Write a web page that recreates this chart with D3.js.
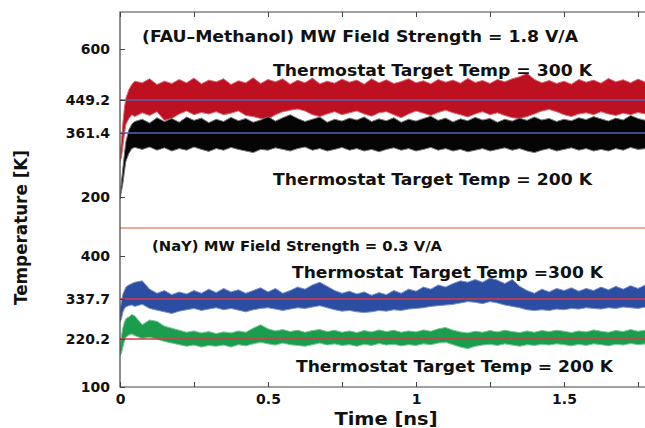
<!DOCTYPE html>
<html>
<head>
<meta charset="utf-8">
<script src="https://cdn.jsdelivr.net/npm/d3@7"></script>
<style>
  body { margin: 0; background: #fff; }
  svg text { font-family: "DejaVu Sans", sans-serif; font-weight: bold; fill: #111; }
</style>
</head>
<body>
<script>
const width = 645;
const height = 428;

// time axis (ns)
const times = [0, 0.005, 0.01, 0.015, 0.02, 0.03, 0.04, 0.05,
  0.075, 0.1, 0.125, 0.15, 0.175, 0.2, 0.225, 0.25, 0.275, 0.3,
  0.325, 0.35, 0.375, 0.4, 0.425, 0.45, 0.475, 0.5, 0.525, 0.55,
  0.575, 0.6, 0.625, 0.65, 0.675, 0.7, 0.725, 0.75, 0.775, 0.8,
  0.825, 0.85, 0.875, 0.9, 0.925, 0.95, 0.975, 1.0, 1.025, 1.05,
  1.075, 1.1, 1.125, 1.15, 1.175, 1.2, 1.225, 1.25, 1.275, 1.3,
  1.325, 1.35, 1.375, 1.4, 1.425, 1.45, 1.475, 1.5, 1.525, 1.55,
  1.575, 1.6, 1.625, 1.65, 1.675, 1.7, 1.725, 1.75, 1.775, 1.8];

// FAU-Methanol, thermostat 300 K (red): upper / lower envelope of the trace [K]
const fau300Hi = [300, 345, 390, 430, 455, 480, 495, 505,
  500, 512, 495, 505, 498, 510, 500, 514, 497, 508,
  503, 512, 495, 506, 500, 515, 498, 510, 503, 512,
  496, 508, 500, 514, 497, 505, 499, 511, 502, 508,
  496, 512, 500, 509, 498, 504, 512, 500, 506, 497,
  510, 502, 508, 499, 513, 501, 507, 498, 510, 503,
  512, 518, 528, 510, 500, 507, 498, 505, 496, 510,
  502, 508, 499, 513, 503, 509, 500, 511, 502, 506];
const fau300Lo = [290, 300, 330, 360, 385, 400, 410, 405,
  415, 408, 418, 395, 400, 412, 420, 410, 416, 412,
  418, 410, 414, 420, 408, 405, 400, 398, 410, 418,
  422, 425, 420, 410, 405, 412, 418, 410, 415, 420,
  412, 406, 415, 418, 410, 402, 412, 420, 414, 408,
  416, 422, 415, 410, 404, 412, 418, 410, 415, 408,
  402, 400, 405, 412, 420, 424, 418, 410, 405, 412,
  415, 410, 418, 412, 408, 414, 410, 416, 412, 410];

// FAU-Methanol, thermostat 200 K (black)
const fau200Hi = [200, 240, 275, 310, 340, 370, 385, 392,
  398, 388, 402, 392, 400, 390, 404, 395, 401, 389,
  398, 392, 403, 394, 400, 390, 396, 405, 393, 402,
  410, 400, 392, 398, 404, 390, 398, 393, 401, 396,
  404, 392, 399, 394, 402, 390, 398, 393, 400, 406,
  395, 401, 391, 399, 394, 403, 396, 400, 390, 398,
  393, 401, 395, 404, 396, 400, 392, 398, 394, 402,
  397, 405, 399, 393, 401, 396, 408, 400, 395, 402];
const fau200Lo = [195, 215, 235, 265, 290, 310, 322, 325,
  320, 326, 318, 324, 316, 322, 318, 326, 320, 315,
  322, 318, 325, 320, 316, 312, 320, 318, 324, 320,
  316, 322, 326, 318, 322, 316, 320, 325, 318, 322,
  316, 320, 314, 320, 324, 318, 322, 316, 320, 325,
  318, 322, 316, 320, 314, 318, 322, 316, 320, 324,
  318, 322, 316, 312, 318, 322, 316, 320, 324, 318,
  322, 316, 320, 316, 322, 318, 325, 320, 322, 318];

// NaY, thermostat 300 K (blue)
const nay300Hi = [305, 330, 345, 350, 355, 358, 360, 362,
  364, 352, 346, 350, 344, 348, 345, 350, 346, 352,
  347, 353, 348, 351, 346, 350, 354, 348, 353, 346,
  350, 355, 352, 358, 362, 356, 350, 346, 349, 345,
  348, 343, 347, 344, 350, 346, 352, 349, 355, 352,
  358, 355, 360, 364, 362, 366, 362, 368, 365, 360,
  366, 356, 350, 346, 352, 348, 353, 350, 354, 349,
  353, 350, 355, 351, 356, 352, 357, 353, 358, 355];
const nay300Lo = [270, 280, 300, 310, 315, 318, 320, 316,
  322, 310, 305, 300, 295, 302, 306, 310, 304, 308,
  312, 306, 310, 305, 300, 306, 310, 312, 308, 304,
  308, 312, 310, 314, 318, 312, 306, 302, 304, 300,
  298, 300, 304, 302, 306, 304, 308, 310, 312, 316,
  318, 320, 322, 326, 330, 328, 324, 330, 326, 320,
  316, 312, 306, 304, 306, 304, 308, 306, 310, 308,
  312, 310, 308, 312, 310, 314, 312, 310, 314, 316];

// NaY, thermostat 200 K (green)
const nay200Hi = [200, 230, 255, 270, 280, 285, 292, 288,
  262, 276, 272, 258, 252, 246, 240, 244, 238, 242,
  236, 241, 238, 244, 240, 252, 262, 250, 244, 248,
  242, 246, 240, 245, 248, 242, 246, 240, 244, 239,
  245, 241, 247, 242, 246, 240, 244, 241, 247, 243,
  250, 254, 246, 241, 238, 243, 240, 245, 241, 246,
  242, 239, 244, 240, 245, 242, 246, 243, 239, 244,
  241, 247, 243, 240, 245, 242, 248, 243, 246, 244];
const nay200Lo = [178, 185, 200, 215, 225, 232, 235, 230,
  222, 225, 220, 214, 210, 206, 202, 205, 200, 204,
  202, 205, 200, 206, 203, 208, 212, 208, 205, 210,
  206, 204, 202, 206, 210, 205, 208, 204, 206, 202,
  207, 204, 209, 205, 207, 203, 206, 204, 208, 206,
  210, 212, 206, 200, 196, 202, 205, 207, 204, 208,
  205, 202, 206, 204, 207, 205, 208, 206, 203, 207,
  204, 208, 206, 203, 207, 205, 209, 206, 208, 206];

// axis ticks and average-temperature reference lines
const upperTicks = [200, 361.4, 449.2, 600];
const lowerTicks = [100, 220.2, 337.7, 400];
const upperRefs = [449.2, 361.4];
const lowerRefs = [337.7, 220.2];
const xLabelTicks = [0, 0.5, 1, 1.5];
const xMinorTicks = [0, 0.25, 0.5, 0.75, 1, 1.25, 1.5, 1.75];

const frame = { left: 120, top: 12, right: 700, bottom: 387, split: 228 };

const svg = d3.select("body").append("svg")
  .attr("width", width)
  .attr("height", height)
  .attr("viewBox", `0 0 ${width} ${height}`);

const x = d3.scaleLinear().domain([0, 1.75]).range([120, 638]);
// the two stacked panels have their own (non-uniform) temperature axes
const yTop = d3.scaleLinear().domain([200, 361.4, 449.2, 600]).range([197, 133, 100, 49]);
const yBot = d3.scaleLinear().domain([100, 220.2, 337.7, 400]).range([387, 339, 299, 256]);

svg.append("clipPath").attr("id", "clipTop")
  .append("rect")
  .attr("x", frame.left).attr("y", frame.top)
  .attr("width", frame.right - frame.left).attr("height", frame.split - frame.top);
svg.append("clipPath").attr("id", "clipBot")
  .append("rect")
  .attr("x", frame.left).attr("y", frame.split)
  .attr("width", frame.right - frame.left).attr("height", frame.bottom - frame.split);

const series = [
  { hi: fau300Hi, lo: fau300Lo, y: yTop, clip: "clipTop", fill: "#bd1121", edge: "#e06a72" },
  { hi: fau200Hi, lo: fau200Lo, y: yTop, clip: "clipTop", fill: "#050505", edge: "#777" },
  { hi: nay300Hi, lo: nay300Lo, y: yBot, clip: "clipBot", fill: "#2b4ea3", edge: "#7890cc" },
  { hi: nay200Hi, lo: nay200Lo, y: yBot, clip: "clipBot", fill: "#1c9d4e", edge: "#74c891" }
];

series.forEach((s) => {
  const area = d3.area()
    .x((d, i) => x(times[i]))
    .y0((d, i) => s.y(s.lo[i]))
    .y1((d, i) => s.y(s.hi[i]));
  svg.append("path")
    .attr("clip-path", `url(#${s.clip})`)
    .attr("d", area(times))
    .style("fill", s.fill)
    .style("stroke", s.edge)
    .style("stroke-width", 1)
    .style("stroke-linejoin", "miter");
});

// average temperature lines
svg.append("g").selectAll("line")
  .data(upperRefs)
  .enter()
  .append("line")
  .attr("x1", frame.left).attr("x2", width)
  .attr("y1", (d) => yTop(d)).attr("y2", (d) => yTop(d))
  .style("stroke", "#5563b0")
  .style("stroke-width", 1.5);

svg.append("g").selectAll("line")
  .data(lowerRefs)
  .enter()
  .append("line")
  .attr("x1", frame.left).attr("x2", width)
  .attr("y1", (d) => yBot(d)).attr("y2", (d) => yBot(d))
  .style("stroke", "#d83a44")
  .style("stroke-width", 1.5);

// panel separator
svg.append("line")
  .attr("x1", frame.left).attr("x2", width)
  .attr("y1", frame.split).attr("y2", frame.split)
  .style("stroke", "#f3a894")
  .style("stroke-width", 2);

// axes
const fmt = (d) => String(d);

const leftTopAxis = svg.append("g")
  .attr("transform", `translate(${frame.left},0)`)
  .call(d3.axisLeft(yTop).tickValues(upperTicks).tickFormat(fmt).tickSize(-5).tickPadding(10));
const leftBotAxis = svg.append("g")
  .attr("transform", `translate(${frame.left},0)`)
  .call(d3.axisLeft(yBot).tickValues(lowerTicks).tickFormat(fmt).tickSize(-5).tickPadding(10));

const bottomAxis = svg.append("g")
  .attr("transform", `translate(0,${frame.bottom})`)
  .call(d3.axisBottom(x).tickValues(xMinorTicks).tickFormat((d) => xLabelTicks.includes(d) ? fmt(d) : "")
    .tickSize(-5).tickPadding(7));
const topAxis = svg.append("g")
  .attr("transform", `translate(0,${frame.top})`)
  .call(d3.axisTop(x).tickValues(xMinorTicks).tickFormat("").tickSize(-5));

[leftTopAxis, leftBotAxis, bottomAxis, topAxis].forEach((g) => {
  g.select(".domain").remove();
  g.selectAll(".tick line").style("stroke", "#444");
  g.selectAll("text").style("font-size", "14px").style("font-family", "'DejaVu Sans', sans-serif")
    .style("font-weight", "bold").style("fill", "#111");
});

// frame
svg.append("path")
  .attr("d", `M${width},${frame.top}H${frame.left}V${frame.bottom}H${width}`)
  .style("fill", "none")
  .style("stroke", "#444")
  .style("stroke-width", 1.2);

// annotations
const notes = [
  { text: "(FAU\u2013Methanol) MW Field Strength = 1.8 V/A", x: 142, y: 42, len: 436, size: 16 },
  { text: "Thermostat Target Temp = 300 K", x: 273, y: 76, len: 319, size: 16.5 },
  { text: "Thermostat Target Temp = 200 K", x: 273, y: 185, len: 319, size: 16.5 },
  { text: "(NaY) MW Field Strength = 0.3 V/A", x: 152, y: 251, len: 290, size: 13.5 },
  { text: "Thermostat Target Temp =300 K", x: 292, y: 278, len: 311, size: 16 },
  { text: "Thermostat Target Temp = 200 K", x: 296, y: 372, len: 317, size: 16 }
];

svg.append("g").selectAll("text")
  .data(notes)
  .enter()
  .append("text")
  .attr("x", (d) => d.x)
  .attr("y", (d) => d.y)
  .attr("textLength", (d) => d.len)
  .attr("lengthAdjust", "spacingAndGlyphs")
  .style("font-size", (d) => `${d.size}px`)
  .text((d) => d.text);

svg.append("text")
  .attr("x", 386)
  .attr("y", 425)
  .attr("text-anchor", "middle")
  .attr("textLength", 103)
  .attr("lengthAdjust", "spacingAndGlyphs")
  .style("font-size", "18px")
  .text("Time [ns]");

svg.append("text")
  .attr("transform", "translate(27,227.5) rotate(-90)")
  .attr("text-anchor", "middle")
  .attr("textLength", 155)
  .attr("lengthAdjust", "spacingAndGlyphs")
  .style("font-size", "18px")
  .text("Temperature [K]");
</script>
</body>
</html>
